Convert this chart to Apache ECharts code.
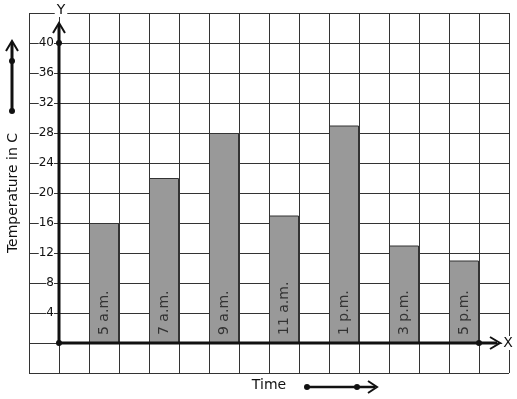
<!DOCTYPE html>
<html><head><meta charset="utf-8">
<script src="https://cdn.jsdelivr.net/npm/echarts@6/dist/echarts.min.js"></script>
<style>html,body{margin:0;padding:0;background:#fff}#c{width:517px;height:399px}</style>
</head><body><div id="c"></div>
<script>
// ---- data ----
const times = ['5 a.m.', '7 a.m.', '9 a.m.', '11 a.m.', '1 p.m.', '3 p.m.', '5 p.m.'];
const temps = [16, 22, 28, 17, 29, 13, 11];
const yTickLabels = [4, 8, 12, 16, 20, 24, 28, 32, 36, 40];
const xTitle = 'Time';
const yTitle = 'Temperature in C';
const xAxisLetter = 'X';
const yAxisLetter = 'Y';

// ---- chart ----
const FONT = 'DejaVu Sans';
const ink = '#111';
const gridColor = '#333';
const chart = echarts.init(document.getElementById('c'), null, {renderer: 'canvas'});

function chevron(tip, dir, len, half) {
  if (dir === 'up') return [[tip[0] - half, tip[1] + len], tip, [tip[0] + half, tip[1] + len]];
  return [[tip[0] - len, tip[1] - half], tip, [tip[0] - len, tip[1] + half]];
}

const option = {
  animation: false,
  backgroundColor: '#fff',
  grid: {left: 29, top: 13, width: 480, height: 360, containLabel: false, outerBoundsMode: 'none'},
  xAxis: {
    type: 'value', min: -1, max: 15, interval: 1,
    offset: -30,
    axisLine: {show: false, onZero: false},
    axisTick: {show: false},
    axisLabel: {show: false},
    splitLine: {show: true, lineStyle: {color: gridColor, width: 1}},
    name: xTitle, nameLocation: 'middle', nameGap: 35,
    nameTextStyle: {fontSize: 14, color: ink, fontFamily: FONT}
  },
  yAxis: {
    type: 'value', min: -4, max: 44, interval: 4,
    offset: -30,
    axisLine: {show: false, onZero: false},
    axisTick: {show: false},
    axisLabel: {
      margin: 5, fontSize: 12, color: ink, fontFamily: FONT,
      backgroundColor: '#fff',
      formatter: v => (yTickLabels.indexOf(v) >= 0 ? String(v) : '')
    },
    splitLine: {show: true, lineStyle: {color: gridColor, width: 1}},
    name: yTitle, nameLocation: 'middle', nameRotate: 90, nameGap: 39,
    nameTextStyle: {fontSize: 14, color: ink, fontFamily: FONT}
  },
  series: [
    {
      type: 'bar',
      data: temps.map((v, i) => [2 * i + 1.5, v]),
      barWidth: 30,
      itemStyle: {color: '#999999', borderColor: '#333', borderWidth: 1},
      label: {
        show: true,
        formatter: p => times[p.dataIndex],
        position: 'insideBottom', rotate: 90, align: 'left', verticalAlign: 'middle',
        distance: 8, fontSize: 14, color: '#333', fontFamily: FONT
      },
      z: 2
    },
    {
      type: 'custom',
      data: [[0, 0]],
      clip: false,
      silent: true,
      z: 5,
      renderItem: function (params, api) {
        const o = api.coord([0, 0]);
        const yTop = api.coord([0, 42.4]);
        const y40 = api.coord([0, 40]);
        const xEnd = api.coord([14.6, 0]);
        const x14 = api.coord([14, 0]);
        const yLab = api.coord([0, 44]);
        const xLab = api.coord([15, 0]);
        const thick = {stroke: ink, lineWidth: 3};
        const arrow = {stroke: ink, lineWidth: 2, fill: null};
        const dot = {fill: ink};
        return {
          type: 'group',
          children: [
            {type: 'line', shape: {x1: o[0], y1: o[1], x2: yTop[0], y2: yTop[1]}, style: thick},
            {type: 'polyline', shape: {points: chevron([yTop[0], yTop[1] - 2], 'up', 10, 6)}, style: arrow},
            {type: 'line', shape: {x1: o[0], y1: o[1], x2: xEnd[0], y2: xEnd[1]}, style: thick},
            {type: 'polyline', shape: {points: chevron([xEnd[0] + 3, xEnd[1]], 'right', 10, 6)}, style: arrow},
            {type: 'circle', shape: {cx: o[0], cy: o[1], r: 3}, style: dot},
            {type: 'circle', shape: {cx: y40[0], cy: y40[1], r: 3}, style: dot},
            {type: 'circle', shape: {cx: x14[0], cy: x14[1], r: 3}, style: dot},
            {type: 'text', x: yLab[0] + 2, y: yLab[1] - 3, style: {
              text: yAxisLetter, align: 'center', verticalAlign: 'middle',
              font: '14px "DejaVu Sans"', fill: ink, backgroundColor: '#fff', padding: [0, 2]}},
            {type: 'text', x: xLab[0] - 1, y: xLab[1], style: {
              text: xAxisLetter, align: 'center', verticalAlign: 'middle',
              font: '14px "DejaVu Sans"', fill: ink, backgroundColor: '#fff', padding: [0, 1]}}
          ]
        };
      }
    }
  ],
  graphic: [
    {type: 'line', shape: {x1: 12, y1: 111, x2: 12, y2: 43}, style: {stroke: ink, lineWidth: 3}},
    {type: 'polyline', shape: {points: [[6, 51], [12, 41], [18, 51]]}, style: {stroke: ink, lineWidth: 2, fill: null}},
    {type: 'circle', shape: {cx: 12, cy: 111, r: 3}, style: {fill: ink}},
    {type: 'circle', shape: {cx: 12, cy: 61, r: 3}, style: {fill: ink}},
    {type: 'line', shape: {x1: 307, y1: 387, x2: 375, y2: 387}, style: {stroke: ink, lineWidth: 2.5}},
    {type: 'polyline', shape: {points: [[368, 381], [377, 387], [368, 393]]}, style: {stroke: ink, lineWidth: 2, fill: null}},
    {type: 'circle', shape: {cx: 307, cy: 387, r: 3}, style: {fill: ink}},
    {type: 'circle', shape: {cx: 357, cy: 387, r: 3}, style: {fill: ink}}
  ]
};
chart.setOption(option);
</script>
</body></html>
